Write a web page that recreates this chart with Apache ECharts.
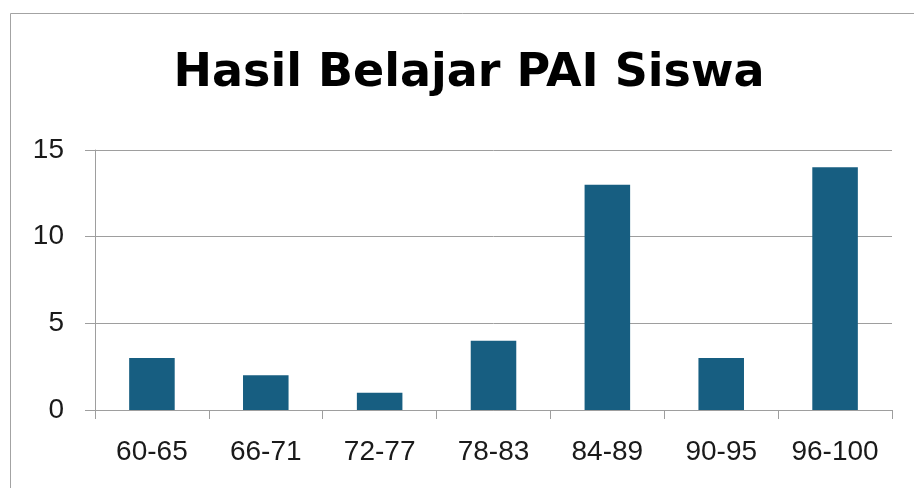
<!DOCTYPE html>
<html style="height: 100%">
<head>
    <meta charset="UTF-8">
    <script src="https://cdn.jsdelivr.net/npm/echarts@6/dist/echarts.min.js"></script>
</head>
<body style="margin: 0; background-color: #ffffff">
    <div id="paint" style="width: 914px; height: 488px;"></div>
<script>
    var categories = ['60-65', '66-71', '72-77', '78-83', '84-89', '90-95', '96-100'];
    var jumlahSiswa = [3, 2, 1, 4, 13, 3, 14];
    var yTicks = [0, 5, 10, 15];

    var chart = echarts.init(document.getElementById('paint'));
    chart.setOption({
        backgroundColor: '#ffffff',
        animation: false,
        title: {
            text: 'Hasil Belajar PAI Siswa',
            left: 464,
            top: 46,
            textAlign: 'center',
            textStyle: {fontFamily: 'DejaVu Sans', fontSize: 46, fontWeight: 'bold', color: '#000000'}
        },
        graphic: [
            {
                type: 'rect',
                shape: {x: 10.5, y: 13.5, width: 2000, height: 2000},
                style: {fill: 'none', stroke: '#a3a3a3', lineWidth: 1},
                silent: true
            }
        ],
        grid: {left: 95, right: 22, top: 150, bottom: 78},
        xAxis: {
            type: 'category',
            data: categories,
            axisLine: {lineStyle: {color: '#9e9e9e', width: 1}},
            axisTick: {show: true, length: 9, lineStyle: {color: '#9e9e9e'}},
            axisLabel: {interval: 0, hideOverlap: false, fontFamily: 'Liberation Sans', fontSize: 28, color: '#1a1a1a', margin: 28}
        },
        yAxis: {
            type: 'value',
            min: yTicks[0],
            max: yTicks[yTicks.length - 1],
            interval: 5,
            axisLine: {show: true, lineStyle: {color: '#9e9e9e', width: 1}},
            axisTick: {show: true, length: 10, lineStyle: {color: '#9e9e9e'}},
            splitLine: {lineStyle: {color: '#9e9e9e', width: 1}},
            axisLabel: {fontFamily: 'Liberation Sans', fontSize: 28, color: '#1a1a1a', margin: 31}
        },
        series: [
            {
                name: 'Jumlah Siswa',
                type: 'bar',
                data: jumlahSiswa,
                barWidth: '40%',
                itemStyle: {color: '#175e81'}
            }
        ]
    });
</script>
</body>
</html>
